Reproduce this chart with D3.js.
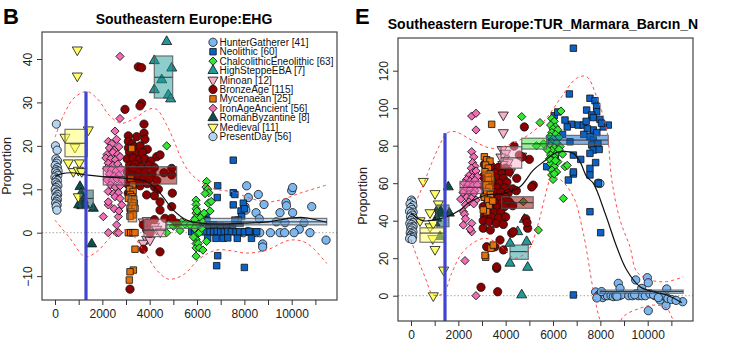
<!DOCTYPE html>
<html>
<head>
<meta charset="utf-8">
<script src="https://cdn.jsdelivr.net/npm/d3@7"></script>
<style>
  body { margin: 0; background: #fff; }
  svg { display: block; font-family: "Liberation Sans", Arial, sans-serif; }
</style>
</head>
<body>
<svg id="chart" width="746" height="340"></svg>
<script>
// period groups, same order as the legend
const groupNames = ["HunterGatherer", "Neolithic", "ChalcolithicEneolithic", "HighSteppeEBA", "Minoan",
  "BronzeAge", "Mycenaean", "IronAgeAncient", "RomanByzantine", "Medieval", "PresentDay"];
const groupCounts = [41, 60, 63, 7, 12, 115, 25, 56, 8, 11, 56];
const groupColors = ["#7db7f0", "#0b62c4", "#33e633", "#1f9a9a", "#f7b0c8",
  "#8b0000", "#e6700a", "#f06eb4", "#0d4f4f", "#ffff66", "#b4d4f2"];
const groupShapes = ["circle", "square", "diamond", "triUp", "triDown",
  "circle", "square", "diamond", "triUp", "triDown", "circle"];

const xTicks = [0, 1000, 2000, 3000, 4000, 5000, 6000, 7000, 8000, 9000, 10000, 11000];
const xTickLabels = ["0", "", "2000", "", "4000", "", "6000", "", "8000", "", "10000", ""];

// ---- EHG panel: [years BP, proportion]
const ehgHunterGatherer = [[8098,10.8],[8168,8.1],[8590,8.8],[8830,6.5],[8492,4.6],[8632,3.2],[8027,6],[8060,5.2],
  [9506,4.6],[9760,6.9],[9780,6.2],[10040,4.6],[10000,9.7],[10040,10.4],[10845,6],[10520,2.3],[9718,2.3],
  [8380,0],[8520,0],[8650,0],[9506,0],[9700,0],[10320,0.8],[10773,0],[11450,-1.7],[8773,-2.6],[8773,-3.3],
  [7955,0],[8150,0.3],[9100,0],[9350,2.5],[10100,0]];
const ehgNeolithic = [[7531,16.7],[6873,10.8],[6855,8.1],[7530,9.2],[7600,8.8],[7530,6.4],[7955,6.8],[7858,5],
  [8000,5.5],[7885,3.7],[7742,2.9],[7600,2.9],[6380,4.1],[6300,3],[6420,2.8],[6500,1.5],[6700,1.8],[7000,1.5],
  [7250,1.2],[7500,1.0],[5775,0.2],[5900,0.2],[6050,0.2],[6200,0.3],[6350,0.2],[6550,0.2],[6700,0.2],
  [6850,0.3],[7000,0.2],[7150,0.2],[7300,0.3],[7450,0.2],[7650,0.2],[7800,0.2],[8000,0.2],[8200,0.3],
  [8520,0.2],[6450,-1.3],[6800,-1.3],[7100,-1.3],[7300,-1.2],[7700,-1.3],[8300,-1.3],[6873,-5.3],
  [6830,-7.6],[8000,-8]];
const ehgChalcolithic = [[4718,20],[4718,0],[5000,1.5],[5350,2.5],[5500,2],[5700,1.8],[5280,0.5],[5960,7.5],
  [5960,6.5],[5960,5.5],[5960,4.5],[5960,3.5],[5960,2.5],[5960,1.5],[5960,0.5],[5960,-0.5],[5960,-1.5],
  [5960,-2.5],[5960,-3.5],[5960,-5.4],[5900,1],[6050,2],[6100,0],[5850,-1],[6050,-2.5],[6150,3.5],[6200,1],
  [6000,5],[5900,3],[6100,-3.5],[6250,2.5],[6408,11.8],[6380,10.5],[6450,10],[6500,9.2],[6340,9],[6478,6.8],
  [6550,5],[6600,7.2],[6300,4.5],[6400,-2],[6250,-4]];
const ehgHighSteppe = [[4718,44],[4195,39.6],[4508,35.2],[4930,37.9],[4195,32.9],[4788,31.7],[4887,30.8]];
const ehgMinoan = [[3730,2.5],[3800,1.8],[3900,2.8],[4014,1.2],[4100,2.2],[3950,0.5],[4200,1.5],[4300,0.8],
  [3873,-1.5],[3730,-2.4],[4014,-1.7],[4450,0.2]];
const ehgBronzeAge = [[3520,38.2],[3660,38],[2957,28.4],[3660,29.8],[3590,29.2],[3760,25],[3097,22.3],[3450,22.1],
  [3760,22.9],[3100,21],[3250,20.5],[3800,21.5],[3100,19.5],[3350,19.8],[3600,20],[3900,19.2],[3150,18.5],
  [3450,18.2],[3700,18.5],[4297,17.5],[4437,17.9],[3050,17],[3300,17.2],[3550,16.8],[3800,17],[4050,16.5],
  [3150,15.5],[3400,15.8],[3650,15.2],[3950,15.5],[4200,15],[4930,14.8],[3050,14],[3300,14.2],[3550,13.8],
  [3800,14],[4100,13.5],[4600,13.8],[3150,12.5],[3450,12.8],[3700,12.2],[4000,12.5],[4300,12],[4930,13.3],
  [3100,11],[3350,11.2],[3600,10.8],[3900,11.3],[4200,10.5],[4366,10],[3097,9.1],[3873,8.7],[4200,8.5],
  [4957,9.1],[4437,7.1],[4437,5.2],[4930,6],[4647,3.3],[4930,3.3],[5140,2.2],[4200,3],[3900,2.2],[3730,1.8],
  [3873,0.6],[4014,-0.1],[3730,-3.8],[4437,-4.4],[3169,-13],[3300,15],[3250,12]];
const ehgMycenaean = [[3240,19.4],[3200,12.5],[3280,11],[3150,10],[3300,9.5],[3180,8.8],[3250,8.3],[3320,7.8],
  [3100,7.9],[3220,7],[3350,6.8],[3280,6.2],[3169,5.6],[3380,5.6],[3200,4.8],[3300,4.1],[3169,3.8],[3100,0],
  [3200,0],[3300,0],[3380,0],[3380,-3.8],[3310,-8.6],[3169,-9.0],[3140,-10.9]];
const ehgIronAge = [[2746,40.6],[2746,26.3],[2535,23.4],[2253,21],[2400,20.5],[2600,21.5],[2300,19.5],[2500,19],
  [2700,19.8],[2200,18],[2450,18.5],[2650,18],[2150,17.2],[2350,17],[2550,16.8],[2750,17.5],[2250,16],
  [2450,15.5],[2650,15.8],[2180,14.8],[2380,14.5],[2580,14.2],[2780,14.8],[2300,13.5],[2500,13],[2700,13.2],
  [2200,12.2],[2420,12],[2620,12.4],[2850,12.2],[2350,11],[2550,10.5],[2750,10.8],[2250,9.5],[2480,9],
  [2680,9.2],[2535,8.3],[2746,7.9],[2253,6.4],[2253,7.1],[2818,6.4],[2041,3.7],[2676,3.7],[2606,1.8],
  [2253,0],[2606,0],[2690,0],[2500,5.5],[2700,5]];
const ehgRomanByzantine = [[1056,10.6],[1100,9.0],[1196,7.5],[1127,6.2],[1250,6.5],[1618,5.6],[1550,-2.6],[1000,6.4]];
const ehgMedieval = [[942,42.1],[942,36.1],[422,22],[1407,23.7],[845,19.7],[562,16.1],[1027,16.1],[775,14.1],
  [985,14.4],[1127,14.1],[985,8.3]];
const ehgPresentDay = [[60,25],[20,20],[90,19],[40,17],[110,16.5],[70,16],[10,15.5],[100,15],[50,14.5],[130,14.2],
  [30,14],[80,13.6],[120,13.2],[0,12.8],[60,12.4],[100,12],[30,11.6],[80,11.2],[120,10.8],[50,10.4],[10,10],
  [90,9.6],[40,9.2],[110,8.8],[70,8.4],[20,8],[100,7.6],[60,7.2],[30,6.8],[90,6.4],[50,6],[80,5.2]];

// group index, from, to, lower quartile, median, upper quartile
const ehgBoxes = [
  [0, 6337, 11480, 1.8, 2.5, 3.3],
  [1, 5985, 7955, 1.4, 1.8, 2.2],
  [2, 4718, 6126, 1.0, 1.8, 2.5],
  [3, 4195, 4972, 31, 35.8, 40.7],
  [4, 3760, 4677, -0.9, 0.6, 3.1],
  [5, 2957, 5140, 11.2, 13.3, 15.2],
  [6, 3097, 3450, 2.5, 5.0, 8.3],
  [7, 2040, 2957, 11.0, 12.9, 15.2],
  [8, 1056, 1618, 5.6, 7.9, 9.8],
  [9, 422, 1365, 17.5, 20.6, 23.8]
];
const ehgFit = [[0,13],[300,13.6],[700,13.8],[1300,13.3],[2000,12.9],[3000,12.5],[3873,11.8],[4437,9.1],
  [5000,5.2],[5565,2.9],[6126,2.2],[7000,2.0],[8000,2.2],[9000,2.5],[10000,3.4],[10500,3.5],[11480,2.4]];
const ehgUpper = [[0,22],[400,27.5],[800,31],[1340,32.5],[1800,30.8],[2300,27],[2800,25.2],[3400,26.5],
  [4000,28.5],[4300,28.4],[4700,25],[5000,21.5],[5300,17.5],[5600,14.5],[6000,12.3],[6500,10.5],[7000,9.8],
  [7530,9.4],[8200,8],[8940,7.1],[9500,7.5],[10350,9.1],[11480,11]];
const ehgLower = [[0,2.9],[634,-1.3],[1267,-5.5],[1760,-4.4],[2464,-0.5],[3030,0.6],[3730,-4],[4296,-8.6],
  [4788,-10.7],[5420,-9.7],[6126,-5.9],[6830,-4],[7500,-4.2],[8098,-4.7],[8940,-4],[9930,-1.7],[10630,-2.4],
  [11480,-7.1]];
const ehgMarker = [1310, 32.5];

// ---- TUR_Marmara_Barcın_N panel
const barHunterGatherer = [[7913,60],[7980,59.8],[8758,6.6],[9493,8.4],[9985,9.6],[10025,6.9],[8830,3.9],
  [9746,3.9],[10803,3.6],[10025,-8],[10773,-5.3],[10520,-2.3],[11479,-3.2],[10310,0],[7800,2],[7900,0],
  [8000,1],[8100,-1],[8200,0],[8300,0],[8450,0],[8550,-0.5],[8650,0],[8800,0],[8900,0.5],[9200,0],[9350,0],
  [9500,1],[9600,0],[9750,0],[9900,0],[10100,1],[10250,0.5],[10650,0],[10850,-1.5],[7850,-1.2],[8050,2.2],
  [8700,-0.3],[9450,0.5],[10450,-1],[11000,-2],[11200,-2.5]];
const barNeolithic = [[6860,132],[6690,107.6],[7560,105.3],[7773,104],[7845,101],[7420,99],[7845,98.1],
  [7634,96.4],[7985,94],[6506,93.7],[6790,91.4],[7068,91],[7280,91],[8335,91],[8124,90],[7700,88.4],
  [7850,87],[7450,89],[7560,84.8],[7700,83],[6717,82.1],[7634,80.4],[7900,81],[7700,77.7],[7560,75.9],
  [6860,75],[7170,72.7],[5733,68.8],[7560,67.9],[6860,64.9],[7560,64.4],[6860,66],[6648,61.7],[7913,60],
  [7560,44.8],[8014,33.6],[6860,0.4],[5944,83],[6100,74],[6050,96],[6200,98],[7300,86],[7400,93],[7700,95],
  [8050,92],[6600,90],[6400,86],[7800,71],[7950,78]];
const barChalcolithic = [[4677,95.5],[5450,92.3],[6337,98.5],[5950,94.5],[6050,93],[5900,91],[6100,90],
  [6000,89],[6200,88.5],[5950,87],[6100,86],[5880,85],[6250,84.5],[6000,83.5],[5950,82],[6150,81.5],[5900,80],
  [6050,79],[6300,79.5],[5950,77.5],[6150,76],[5900,75],[6050,74],[6400,75.5],[5950,72.5],[6200,71.5],
  [5900,70.5],[6050,69],[6506,68.8],[6600,69.5],[5950,67],[6150,66],[5944,64.4],[6000,62],[6050,65],
  [5850,73],[6100,72],[6250,78],[6435,51.9],[5380,35],[4745,50.1],[5300,80],[5600,81],[5750,78]];
const barHighSteppe = [[4788,40.7],[4507,34.1],[4183,27.9],[4887,28.8],[4183,17.3],[4930,15.1],[4677,0.4]];
const barMinoan = [[3900,96.4],[3900,87],[3850,78],[4000,76],[4677,74.5],[3950,73],[4100,71],[3880,70],
  [4050,68],[3970,67],[4200,66],[3800,74]];
const barBronzeAge = [[4788,90],[4352,79.8],[5000,72.7],[4576,75],[4700,74],[3100,70],[3400,69],[3700,68.5],
  [4000,68],[3250,66],[3550,65.5],[3850,65],[4150,66],[3050,63.5],[3300,63],[3600,63],[3900,62.5],
  [4466,62.6],[3150,61],[3450,60.5],[3750,60],[4050,60.5],[5165,59],[5099,58],[3050,58.5],[3350,58],
  [3650,57.5],[3950,57.5],[4300,57],[3200,55.5],[3500,55],[3800,55],[4100,54.5],[4450,56],[3100,53],
  [3400,52.5],[3700,52],[4000,52.5],[3250,50],[3550,49.5],[3850,49.5],[4150,50],[3050,47.5],[3350,47],
  [3650,47],[3950,47.5],[4300,48],[3200,45],[3500,44.5],[3800,44.5],[3100,42.5],[3400,42],[3700,41.5],
  [4000,42],[3050,40],[3300,39.5],[3600,38.5],[3900,38],[4254,33.3],[4930,36],[3050,36],[3350,35],
  [3760,29.7],[3197,26.1],[3549,26.1],[3900,24.4],[3620,14.6],[3620,15.4],[2957,4.5],[3662,2.1],
  [4324,34.1],[4850,41],[4900,39]];
const barMycenaean = [[3408,91.4],[3097,74.1],[3200,72.5],[3337,71.8],[3150,69.7],[3266,68],[3126,66.1],
  [3350,65],[3266,63.5],[3400,62],[3266,61.7],[3150,59],[3300,57.5],[3200,55.5],[3350,54],[3100,52.5],
  [3250,51],[3300,48],[3197,44.8],[3055,45.7],[3380,25.3],[3478,27],[3155,20.5],[3126,21.5],[3450,50.5]];
const barIronAge = [[2564,95.8],[2746,97.3],[2746,88.4],[2564,76.8],[2650,74],[2600,71],[2700,69],[2550,68],
  [2640,66],[2750,66.5],[2450,64],[2600,63],[2800,63.5],[2350,62],[2500,61],[2700,61.5],[2250,60],[2400,59],
  [2600,58.5],[2800,59],[2300,57],[2500,56.5],[2700,56],[2200,55],[2450,54],[2650,54.5],[2350,52.5],
  [2550,52],[2750,51],[2100,51.5],[2450,50],[2650,49],[2300,48.5],[2210,44.8],[2260,43.5],[2300,41],
  [2210,37.7],[2564,38.6],[2564,34.1],[2500,35.5],[2281,18.7],[2746,0]];
const barRomanByzantine = [[1576,58],[1155,46.6],[1225,45.5],[1620,44],[1225,43.9],[1085,41.3],[1014,38.9],[1225,31.5]];
const barMedieval = [[520,61],[1014,54.5],[1155,49],[803,44.3],[380,40],[803,36.8],[942,38.6],[917,30.5],
  [1014,24.7],[1380,13.7],[942,0]];
const barPresentDay = [[20,51],[60,50],[-40,49],[80,48],[0,47],[40,46],[-60,45],[90,44.5],[20,44],[60,43],
  [-20,42],[100,41.5],[40,41],[0,40],[70,39],[-50,38.5],[30,38],[90,37],[-10,36.5],[50,36],[10,35],[80,34],
  [-30,33.5],[40,33],[0,32],[70,31.5],[20,31],[-60,30.5],[50,30]];

const barBoxes = [
  [0, 7985, 11500, 1.3, 2.2, 3.0],
  [1, 5733, 8335, 80.7, 83, 85.5],
  [2, 4677, 5733, 78.2, 81, 84],
  [3, 4183, 4956, 19.4, 23.5, 27],
  [4, 3802, 4677, 68, 73.5, 79.5],
  [5, 3830, 5165, 46.6, 49.6, 52.8],
  [6, 3050, 3480, 56, 61, 66],
  [7, 2070, 2990, 54.5, 57.8, 61],
  [8, 1085, 1605, 36.8, 44, 48.4],
  [9, 380, 1394, 28.5, 33.4, 36.2]
];
const barFit = [[0,44],[500,40],[1000,40.5],[1500,42],[2070,45.7],[2493,50.1],[3197,53.7],[3900,54.6],
  [4605,58.1],[5165,67],[5660,72],[6012,75.5],[6295,76.8],[6860,75.9],[7140,71.5],[7420,63.5],[7700,60],
  [8200,44],[8690,26.1],[9112,13.7],[9675,4.8],[10240,2.1],[10800,0.4],[11440,-3.7]];
const barUpper = [[170,49],[450,57],[870,70.6],[1200,80],[1506,86.6],[1860,87.5],[2564,83],[3408,78.6],
  [4110,80.4],[4956,85.7],[5660,93.7],[6300,105],[7000,116],[7420,116.8],[7845,106],[8268,88.4],[8480,62],
  [8830,40.4],[9250,26.1],[9535,12.8],[10100,8.4],[10800,7.5],[11500,10.1]];
const barLower = [[0,30],[100,26],[590,10],[940,0.4],[1365,1.3],[1720,12],[2142,22.6],[2704,28.8],
  [3126,30.6],[3549,28.8],[3970,24.4],[4394,20],[4956,24.4],[5380,38.6],[5660,52.8],[5944,63],[6300,62],
  [6860,52.8],[7280,33.3],[7700,3],[7985,-13],[8400,-25],[8970,-11.2],[9675,-6.7],[10240,-5],[10800,-6.7],
  [11080,-13],[11500,-20]];
const barMarker = [1436, 86.7];

const ehgPoints = [ehgHunterGatherer, ehgNeolithic, ehgChalcolithic, ehgHighSteppe, ehgMinoan, ehgBronzeAge,
  ehgMycenaean, ehgIronAge, ehgRomanByzantine, ehgMedieval, ehgPresentDay];
const barPoints = [barHunterGatherer, barNeolithic, barChalcolithic, barHighSteppe, barMinoan, barBronzeAge,
  barMycenaean, barIronAge, barRomanByzantine, barMedieval, barPresentDay];

const panels = [
  {id: "ehg", letter: "B", letterX: 3, title: "Southeastern Europe:EHG", titleX: 184, titleY: 24,
   frame: {left: 42, right: 337, top: 32, bottom: 300}, xRange: [55, 291.7],
   yDomain: [0, 40], yRange: [232.7, 59], yTicks: [-10, 0, 10, 20, 30, 40], labelY: 166,
   points: ehgPoints, boxes: ehgBoxes, fit: ehgFit, upper: ehgUpper, lower: ehgLower, marker: ehgMarker,
   legend: {x: 213, y: 42.3}},
  {id: "bar", letter: "E", letterX: 355, title: "Southeastern Europe:TUR_Marmara_Barcın_N", titleX: 543, titleY: 29,
   frame: {left: 398, right: 693, top: 38, bottom: 321}, xRange: [411, 647.7],
   yDomain: [0, 120], yRange: [295.7, 70.7], yTicks: [0, 20, 40, 60, 80, 100, 120], labelY: 196,
   points: barPoints, boxes: barBoxes, fit: barFit, upper: barUpper, lower: barLower, marker: barMarker}
];

const symbolPath = shape => {
  if (shape === "circle") return d3.symbol(d3.symbolCircle, 54)();
  if (shape === "square") return d3.symbol(d3.symbolSquare, 42)();
  if (shape === "diamond") return d3.symbol(d3.symbolSquare, 34)();
  return d3.symbol(d3.symbolTriangle, 44)();
};
const symbolRotate = shape => shape === "diamond" ? 45 : shape === "triDown" ? 180 : 0;

const svg = d3.select("#chart");
svg.append("rect").attr("width", 746).attr("height", 340).attr("fill", "#fff");

const drawPanel = p => {
  const f = p.frame;
  const x = d3.scaleLinear().domain([0, 10000]).range(p.xRange);
  const y = d3.scaleLinear().domain(p.yDomain).range(p.yRange);

  svg.append("clipPath").attr("id", `clip-${p.id}`)
    .append("rect")
    .attr("x", f.left).attr("y", f.top)
    .attr("width", f.right - f.left).attr("height", f.bottom - f.top);

  const plot = svg.append("g").attr("clip-path", `url(#clip-${p.id})`);

  plot.append("line")
    .attr("x1", f.left).attr("x2", f.right)
    .attr("y1", y(0)).attr("y2", y(0))
    .attr("stroke", "#b8b8b8").attr("stroke-width", 1.2)
    .attr("stroke-dasharray", "1.5,2");

  // samples
  p.points.forEach((pts, gi) => {
    plot.append("g")
      .selectAll("path")
      .data(pts)
      .join("path")
      .attr("d", symbolPath(groupShapes[gi]))
      .attr("transform", d => `translate(${x(d[0])},${y(d[1])}) rotate(${symbolRotate(groupShapes[gi])})`)
      .attr("fill", groupColors[gi])
      .attr("stroke", "#111")
      .attr("stroke-width", 0.8);
  });

  // per-period boxes
  const boxes = plot.append("g")
    .selectAll("g")
    .data(p.boxes)
    .join("g");
  boxes.append("rect")
    .attr("x", d => x(d[1]))
    .attr("y", d => y(d[5]))
    .attr("width", d => x(d[2]) - x(d[1]))
    .attr("height", d => y(d[3]) - y(d[5]))
    .attr("fill", d => groupColors[d[0]])
    .attr("fill-opacity", 0.5)
    .attr("stroke", "#555")
    .attr("stroke-opacity", 0.8)
    .attr("stroke-width", 1.2);
  boxes.append("line")
    .attr("x1", d => x(d[1])).attr("x2", d => x(d[2]))
    .attr("y1", d => y(d[4])).attr("y2", d => y(d[4]))
    .attr("stroke", "#333").attr("stroke-width", 1);

  const line = d3.line()
    .x(d => x(d[0]))
    .y(d => y(d[1]))
    .curve(d3.curveCatmullRom);

  plot.append("path").datum(p.upper)
    .attr("d", line).attr("fill", "none")
    .attr("stroke", "#ff4d4d").attr("stroke-width", 1).attr("stroke-dasharray", "3,3");
  plot.append("path").datum(p.lower)
    .attr("d", line).attr("fill", "none")
    .attr("stroke", "#ff4d4d").attr("stroke-width", 1).attr("stroke-dasharray", "3,3");
  plot.append("path").datum(p.fit)
    .attr("d", line).attr("fill", "none")
    .attr("stroke", "#111").attr("stroke-width", 1.2);

  plot.append("line")
    .attr("x1", x(p.marker[0])).attr("x2", x(p.marker[0]))
    .attr("y1", y(p.marker[1])).attr("y2", f.bottom + 20)
    .attr("stroke", "#3f45cf").attr("stroke-width", 3.2);

  svg.append("rect")
    .attr("x", f.left).attr("y", f.top)
    .attr("width", f.right - f.left).attr("height", f.bottom - f.top)
    .attr("fill", "none").attr("stroke", "#444").attr("stroke-width", 1.2);

  // axes
  svg.append("g")
    .attr("transform", `translate(0,${f.bottom})`)
    .call(d3.axisBottom(x).tickValues(xTicks).tickFormat((d, i) => xTickLabels[i]).tickSize(5).tickPadding(4))
    .call(g => g.select(".domain").remove())
    .call(g => g.selectAll("text").attr("font-size", 12).attr("font-family", null).attr("fill", "#222"))
    .call(g => g.selectAll("line").attr("stroke", "#333"));

  svg.append("g")
    .attr("transform", `translate(${f.left},0)`)
    .call(d3.axisLeft(y).tickValues(p.yTicks).tickSize(5))
    .call(g => g.select(".domain").remove())
    .call(g => g.selectAll("line").attr("stroke", "#333"))
    .call(g => g.selectAll("text")
      .attr("x", null).attr("dy", null)
      .attr("transform", "translate(-10,0) rotate(-90)")
      .attr("text-anchor", "middle")
      .attr("font-size", 12).attr("font-family", null).attr("fill", "#222"));

  svg.append("text")
    .attr("transform", `translate(${f.left - 31},${p.labelY}) rotate(-90)`)
    .attr("text-anchor", "middle")
    .attr("font-size", 12.5).attr("fill", "#222")
    .text("Proportion");

  svg.append("text")
    .attr("x", p.titleX).attr("y", p.titleY)
    .attr("text-anchor", "middle")
    .attr("font-size", 14).attr("font-weight", "bold")
    .text(p.title);

  svg.append("text")
    .attr("x", p.letterX).attr("y", 24)
    .attr("font-size", 22).attr("font-weight", "bold")
    .text(p.letter);

  if (p.legend) {
    const items = svg.append("g")
      .selectAll("g")
      .data(groupNames)
      .join("g")
      .attr("transform", (d, i) => `translate(${p.legend.x},${p.legend.y + i * 9.43})`);
    items.append("path")
      .attr("d", (d, i) => symbolPath(groupShapes[i]))
      .attr("transform", (d, i) => `rotate(${symbolRotate(groupShapes[i])})`)
      .attr("fill", (d, i) => groupColors[i])
      .attr("stroke", "#111").attr("stroke-width", 0.8);
    items.append("text")
      .attr("x", 6.5).attr("dy", "0.36em")
      .attr("font-size", 10).attr("fill", "#111")
      .text((d, i) => `${d} [${groupCounts[i]}]`);
  }
};

panels.forEach(drawPanel);
</script>
</body>
</html>
